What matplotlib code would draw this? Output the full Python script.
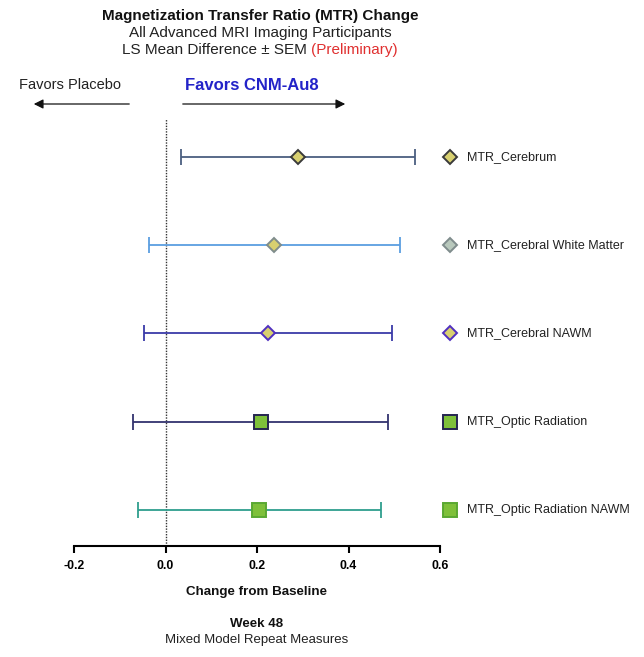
import matplotlib
matplotlib.use("Agg")
import matplotlib.pyplot as plt
from matplotlib.patches import FancyArrowPatch

plt.rcParams['font.family'] = ['Liberation Sans', 'DejaVu Sans']

# LS mean difference (CNM-Au8 - placebo) and SEM, week 48
regions = ["MTR_Cerebrum", "MTR_Cerebral White Matter", "MTR_Cerebral NAWM",
           "MTR_Optic Radiation", "MTR_Optic Radiation NAWM"]
ls_mean = [0.290, 0.238, 0.224, 0.208, 0.205]
sem = [0.256, 0.275, 0.270, 0.279, 0.265]

markers = ["D", "D", "D", "s", "s"]
line_colors = ["#4b5f80", "#5b9ee0", "#3a3aa8", "#33336e", "#2e9e8e"]
fill_colors = ["#d8d070", "#d8d070", "#d8d070", "#7ec03a", "#7ec03a"]
edge_colors = ["#3a3a3a", "#7f8c8c", "#5030c0", "#252550", "#5aa832"]
key_fill = ["#d8d070", "#b8c8bc", "#d8d070", "#7ec03a", "#7ec03a"]
marker_sizes = [7.5, 7.5, 7.5, 10, 10]

xticks = [-0.2, 0.0, 0.2, 0.4, 0.6]
xtick_labels = ["-0.2", "0.0", "0.2", "0.4", "0.6"]

W, H = 644, 657
fig = plt.figure(figsize=(W / 100, H / 100), dpi=100)
fig.patch.set_facecolor("white")

left, right_px, top_px, bottom_px = 74, 440, 119, 546
ax = fig.add_axes([left / W, 1 - bottom_px / H, (right_px - left) / W, (bottom_px - top_px) / H])
ax.set_xlim(-0.2, 0.6)
ax.set_ylim(4.41, -0.43)

for i in range(len(regions)):
    ax.errorbar(ls_mean[i], i, xerr=sem[i], fmt="none", ecolor=line_colors[i],
                elinewidth=1.3, capsize=5.5, capthick=1.3, zorder=2)
    ax.plot(ls_mean[i], i, marker=markers[i], markersize=marker_sizes[i],
            markerfacecolor=fill_colors[i], markeredgecolor=edge_colors[i],
            markeredgewidth=1.4, linestyle="none", zorder=3)
    # key to the right of the plotting area
    ax.plot(0.621, i, marker=markers[i], markersize=marker_sizes[i],
            markerfacecolor=key_fill[i], markeredgecolor=edge_colors[i],
            markeredgewidth=1.4, linestyle="none", clip_on=False, zorder=3)
    ax.text(0.66, i, regions[i], fontsize=9, color="#222222", va="center", ha="left",
            clip_on=False)

ax.axvline(0, color="#333333", linestyle=(0, (1, 1)), linewidth=1.0, zorder=1)

for s in ["left", "right", "top"]:
    ax.spines[s].set_visible(False)
ax.spines["bottom"].set_linewidth(1.5)
ax.set_yticks([])
ax.set_xticks(xticks)
ax.set_xticklabels(xtick_labels, fontsize=8.8, fontweight="bold")
ax.tick_params(axis="x", length=5, width=1.5, pad=5)


def ftext(x, y, s, **kw):
    return fig.text(x / W, 1 - y / H, s, **kw)


ftext(260, 16, "Magnetization Transfer Ratio (MTR) Change", fontsize=11,
      fontweight="bold", ha="center", va="center", color="#111111")
ftext(260, 33, "All Advanced MRI Imaging Participants", fontsize=11,
      ha="center", va="center", color="#222222")

# third title line: black part followed by a red qualifier, centred as a whole
part_a = ftext(0, 50, "LS Mean Difference \u00b1 SEM ", fontsize=11,
               ha="left", va="center", color="#222222")
part_b = ftext(0, 50, "(Preliminary)", fontsize=11, ha="left", va="center",
               color="#e03030")
fig.canvas.draw()
r = fig.canvas.get_renderer()
wa = part_a.get_window_extent(r).width
wb = part_b.get_window_extent(r).width
x0 = 260 - (wa + wb) / 2
part_a.set_x(x0 / W)
part_b.set_x((x0 + wa) / W)

ftext(19, 85, "Favors Placebo", fontsize=10.5, ha="left", va="center", color="#222222")
ftext(185, 85, "Favors CNM-Au8", fontsize=12, fontweight="bold", ha="left",
      va="center", color="#2323c8")

arrow_kw = dict(arrowstyle="-|>", color="#111111", lw=0.9, mutation_scale=14)
fig.patches.append(FancyArrowPatch(
    (132 / W, 1 - 104 / H), (31 / W, 1 - 104 / H), transform=fig.transFigure, **arrow_kw))
fig.patches.append(FancyArrowPatch(
    (180 / W, 1 - 104 / H), (348 / W, 1 - 104 / H), transform=fig.transFigure, **arrow_kw))

ftext(257, 592, "Change from Baseline", fontsize=9.6, fontweight="bold",
      ha="center", va="center", color="#111111")
ftext(257, 624, "Week 48", fontsize=9.6, fontweight="bold", ha="center", va="center",
      color="#111111")
ftext(257, 640, "Mixed Model Repeat Measures", fontsize=9.5, ha="center", va="center",
      color="#222222")

fig.savefig("out.png", dpi=100)
